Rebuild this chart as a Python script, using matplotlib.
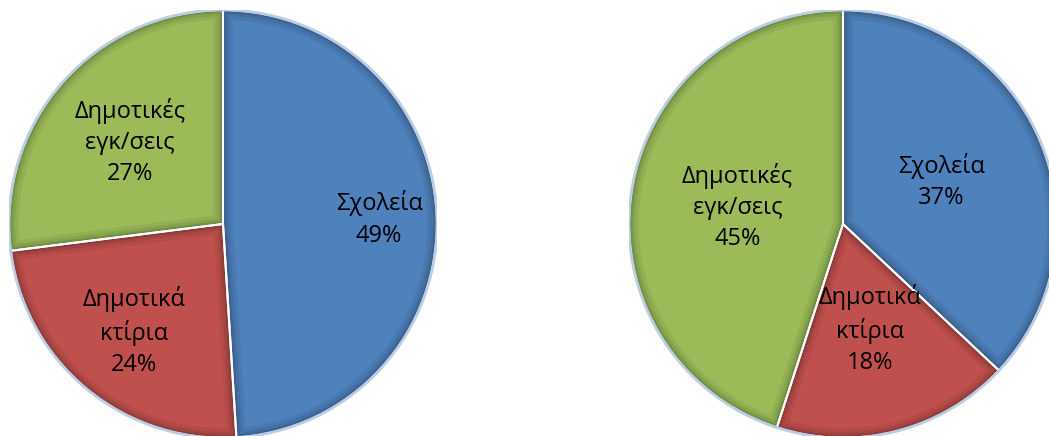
import numpy as np
import matplotlib
matplotlib.use("Agg")
import matplotlib.pyplot as plt
from matplotlib.patches import Wedge

plt.rcParams['font.family'] = ['Open Sans', 'DejaVu Sans']

# Δεδομένα
labels = ['Σχολεία', 'Δημοτικά\nκτίρια', 'Δημοτικές\nεγκ/σεις']
left_values = [49, 24, 27]
right_values = [37, 18, 45]
colors = ['#4F81BD', '#C0504D', '#9BBB59']

# απόσταση ετικετών από το κέντρο (κλάσμα ακτίνας)
left_label_dist = [0.73, 0.65, 0.58]
right_label_dist = [0.50, 0.51, 0.50]

fig = plt.figure(figsize=(10.49, 4.36), dpi=100)


def draw_pie(ax, values, dists):
    wedges, _ = ax.pie(values, colors=colors, startangle=90, counterclock=False,
                       radius=1.0, wedgeprops=dict(linewidth=0))
    # σκίαση στις άκρες (εφέ bevel)
    for w in wedges:
        for lw, a in [(14, 0.06), (9, 0.08), (5, 0.10), (2.5, 0.12)]:
            sh = Wedge(w.center, w.r, w.theta1, w.theta2, fill=False,
                       edgecolor='black', linewidth=lw, alpha=a)
            ax.add_patch(sh)
            sh.set_clip_path(w)
    # λευκά διαχωριστικά
    for w in wedges:
        ax.add_patch(Wedge(w.center, w.r, w.theta1, w.theta2, fill=False,
                           edgecolor='white', linewidth=1.5))
    # περίγραμμα
    circle = plt.Circle((0, 0), 1.0, fill=False, edgecolor='#B9CDE5', linewidth=2)
    ax.add_patch(circle)
    for w, lab, v, d in zip(wedges, labels, values, dists):
        ang = np.deg2rad((w.theta1 + w.theta2) / 2)
        ax.text(d * np.cos(ang), d * np.sin(ang), f"{lab}\n{v}%",
                ha='center', va='center', fontsize=17, linespacing=1.4,
                color='black')
    ax.set_xlim(-1, 1)
    ax.set_ylim(-1, 1)
    ax.set_aspect('equal')
    ax.axis('off')


ax1 = fig.add_axes([9 / 1049, -2 / 436, 428 / 1049, 428 / 436])
draw_pie(ax1, left_values, left_label_dist)

ax2 = fig.add_axes([629 / 1049, -2 / 436, 428 / 1049, 428 / 436])
draw_pie(ax2, right_values, right_label_dist)

fig.savefig('out.png', dpi=100)
